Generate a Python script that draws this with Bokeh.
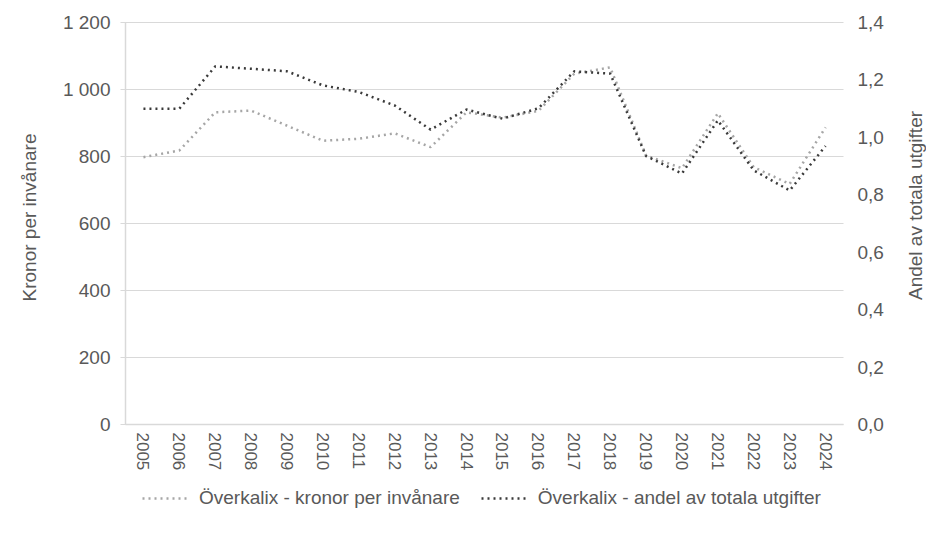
import math
from bokeh.plotting import figure
from bokeh.models import (Range1d, LinearAxis, FixedTicker, Legend, LegendItem, Label,
                          ColumnDataSource, CustomJSTickFormatter)
from bokeh.embed import file_html
from bokeh.resources import INLINE

years = [2005, 2006, 2007, 2008, 2009, 2010, 2011, 2012, 2013, 2014,
         2015, 2016, 2017, 2018, 2019, 2020, 2021, 2022, 2023, 2024]
kronor = [798, 818, 932, 937, 892, 847, 853, 869, 828, 932,
          916, 936, 1047, 1066, 803, 765, 929, 768, 718, 887]
andel = [1.100, 1.100, 1.247, 1.239, 1.230, 1.181, 1.158, 1.111, 1.027, 1.097,
         1.065, 1.101, 1.230, 1.222, 0.935, 0.874, 1.059, 0.885, 0.815, 0.970]
left_ticks = [0, 200, 400, 600, 800, 1000, 1200]
right_ticks = [0.0, 0.2, 0.4, 0.6, 0.8, 1.0, 1.2, 1.4]
name_kronor = "Överkalix - kronor per invånare"
name_andel = "Överkalix - andel av totala utgifter"
title_left = "Kronor per invånare"
title_right = "Andel av totala utgifter"

FONT = "Liberation Sans"
TXT = "#595959"
GRID = "#D9D9D9"

# ---- pixel layout of the canvas (the whole canvas is the plotting frame) ----
W, H = 926, 525
PL, PR, PT, PB = 125, 843, 22, 424          # plotting area inside the canvas
x_lo, x_hi = years[0] - 0.5, years[-1] + 0.5
y_max_l, y_max_r = left_ticks[-1], right_ticks[-1]
ppx = (PR - PL) / (x_hi - x_lo)
ppy_l = (PB - PT) / y_max_l
ppy_r = (PB - PT) / y_max_r

x_range = Range1d(x_lo - PL / ppx, x_hi + (W - PR) / ppx)
y_range = Range1d(-(H - PB) / ppy_l, y_max_l + PT / ppy_l)

src = ColumnDataSource(dict(year=years, kronor=kronor, andel=andel))

p = figure(x_range=x_range, y_range=y_range, width=W, height=H, min_border=0,
           output_backend="svg", toolbar_location=None,
           background_fill_color="white", border_fill_color="white")
p.outline_line_color = None
p.extra_y_ranges = {"right": Range1d(-(H - PB) / ppy_r, y_max_r + PT / ppy_r)}
p.grid.visible = False

r1 = p.line(x="year", y="kronor", source=src, line_color="#A6A6A6", line_width=2.5,
            line_dash="2 4")
r2 = p.line(x="year", y="andel", source=src, y_range_name="right", line_color="#3A3A3A",
            line_width=2.5, line_dash="2 4")

# left axis (its long inward ticks act as the horizontal gridlines)
ya = p.yaxis[0]
ya.fixed_location = x_lo
ya.bounds = (0, y_max_l)
ya.level = "underlay"
ya.ticker = FixedTicker(ticks=left_ticks)
ya.formatter = CustomJSTickFormatter(code="""
var s = Math.round(tick).toString();
return s.replace(/\\B(?=(\\d{3})+(?!\\d))/g, ' ');
""")
ya.axis_line_color = GRID
ya.axis_line_width = 1.5
ya.major_tick_line_color = GRID
ya.major_tick_line_width = 1
ya.major_tick_out = 5
ya.major_tick_in = PR - PL
ya.minor_tick_line_color = None
ya.major_label_standoff = 10
ya.major_label_text_font = FONT
ya.major_label_text_font_size = "19px"
ya.major_label_text_color = TXT

# right axis
ra = LinearAxis(y_range_name="right", ticker=FixedTicker(ticks=right_ticks))
ra.fixed_location = x_hi
ra.bounds = (0, y_max_r)
ra.formatter = CustomJSTickFormatter(code="return tick.toFixed(1).replace('.', ',');")
ra.axis_line_color = None
ra.major_tick_line_color = None
ra.minor_tick_line_color = None
ra.major_label_standoff = 8
ra.major_label_text_font = FONT
ra.major_label_text_font_size = "19px"
ra.major_label_text_color = TXT
p.add_layout(ra, "right")

# bottom axis
xa = p.xaxis[0]
xa.fixed_location = 0
xa.bounds = (x_lo, x_hi)
xa.ticker = FixedTicker(ticks=years)
xa.axis_line_color = GRID
xa.axis_line_width = 1.5
xa.major_tick_line_color = None
xa.minor_tick_line_color = None
xa.major_label_orientation = -math.pi / 2
xa.major_label_standoff = 2
xa.major_label_text_font = FONT
xa.major_label_text_font_size = "17px"
xa.major_label_text_color = TXT

# axis titles (both read bottom-to-top)
p.add_layout(Label(x=x_lo - (PL - 29) / ppx, y=(PB - 217) / ppy_l, text=title_left,
                   angle=math.pi / 2, text_align="center", text_baseline="middle",
                   text_font=FONT, text_font_size="19px", text_color=TXT))
p.add_layout(Label(x=x_hi + (915 - PR) / ppx, y=(PB - 205) / ppy_l, text=title_right,
                   angle=math.pi / 2, text_align="center", text_baseline="middle",
                   text_font=FONT, text_font_size="19px", text_color=TXT))

legend = Legend(items=[LegendItem(label=name_kronor, renderers=[r1]),
                       LegendItem(label=name_andel, renderers=[r2])],
                orientation="horizontal", location=(142, 16))
legend.margin = 0
legend.padding = 0
legend.spacing = 21
legend.glyph_width = 48
legend.label_standoff = 9
legend.border_line_color = None
legend.background_fill_alpha = 0
legend.label_text_font = FONT
legend.label_text_font_size = "19px"
legend.label_text_color = TXT
p.add_layout(legend)

open("out.html", "w").write(file_html(p, INLINE))
